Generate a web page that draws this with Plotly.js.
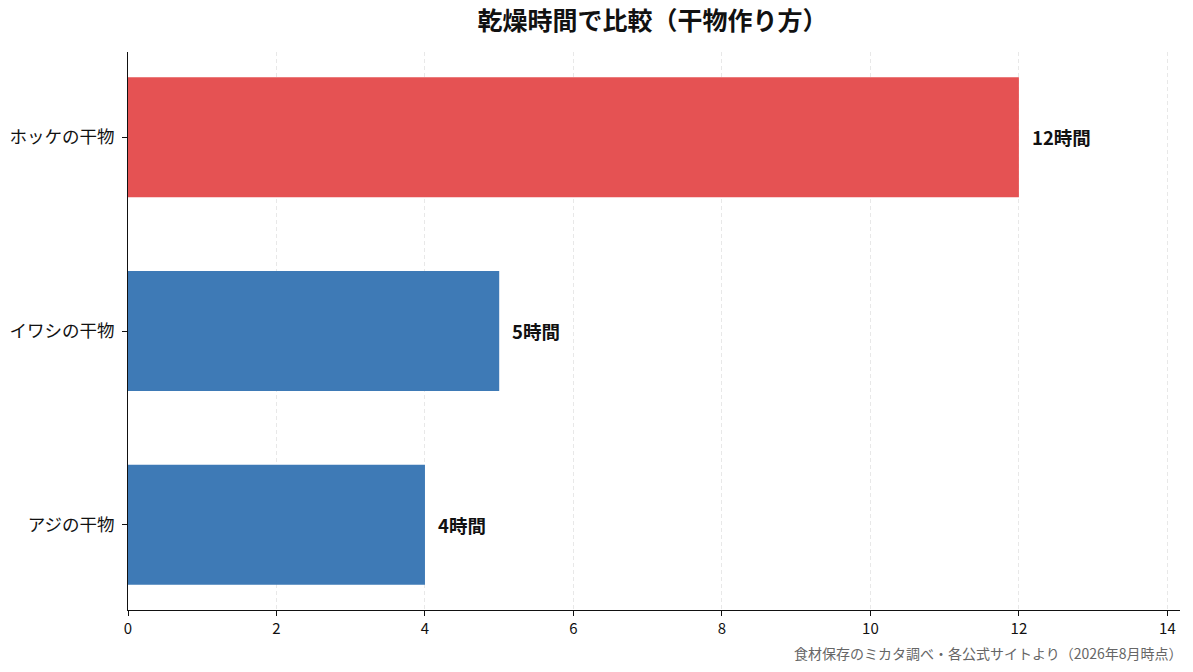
<!DOCTYPE html>
<html>
<head>
<meta charset="utf-8">
<script src="https://cdn.plot.ly/plotly-3.0.1.min.js"></script>
<style>
  html, body { margin: 0; padding: 0; background: #fff; }
  #chart { width: 1193px; height: 672px; }
</style>
</head>
<body>
<div id="chart"></div>
<script>
const FONT = '"Noto Sans CJK JP", "Noto Sans", sans-serif';

// bottom to top
const categories = ["アジの干物", "イワシの干物", "ホッケの干物"];
const hours = [4, 5, 12];
const valueLabels = ["4時間", "5時間", "12時間"];
const barColors = ["#3e7ab6", "#3e7ab6", "#e55253"];

const xTicks = [0, 2, 4, 6, 8, 10, 12, 14];

const trace = {
  type: "bar",
  orientation: "h",
  x: hours,
  y: categories,
  width: 0.62,
  marker: { color: barColors, line: { width: 0 } },
  hoverinfo: "none",
};

// value labels a bit right of each bar end
const labels = hours.map((h, i) => ({
  x: h,
  y: categories[i],
  xref: "x",
  yref: "y",
  text: "<b>" + valueLabels[i] + "</b>",
  showarrow: false,
  xanchor: "left",
  xshift: 11,
  font: { family: FONT, size: 18.5, color: "#111" },
}));

const layout = {
  width: 1193,
  height: 672,
  paper_bgcolor: "#fff",
  plot_bgcolor: "#fff",
  margin: { l: 128, r: 13, t: 52, b: 62 },
  showlegend: false,
  font: { family: FONT, color: "#111" },
  title: {
    text: "<b>乾燥時間で比較（干物作り方）</b>",
    x: 0.547,
    xanchor: "center",
    y: 0.968,
    yanchor: "middle",
    font: { family: FONT, size: 25, color: "#111" },
  },
  xaxis: {
    range: [0, 14.17],
    tickvals: xTicks,
    ticktext: xTicks.map(String),
    ticks: "outside",
    ticklen: 5,
    tickcolor: "#111",
    showline: true,
    linecolor: "#111",
    linewidth: 1,
    showgrid: true,
    gridcolor: "#e8e8e8",
    griddash: "4px,3px",
    gridwidth: 1,
    zeroline: false,
    tickfont: { family: FONT, size: 15, color: "#111" },
    fixedrange: true,
  },
  yaxis: {
    range: [-0.44, 2.44],
    ticks: "outside",
    ticklen: 5,
    tickcolor: "#111",
    ticklabelstandoff: 4,
    showline: true,
    linecolor: "#111",
    linewidth: 1,
    showgrid: false,
    zeroline: false,
    tickfont: { family: FONT, size: 17.5, color: "#111" },
    fixedrange: true,
  },
  annotations: labels.concat([
    {
      text: "食材保存のミカタ調べ・各公式サイトより（2026年8月時点）",
      xref: "paper",
      yref: "paper",
      x: 0.996,
      xshift: 9,
      y: -0.077,
      xanchor: "right",
      yanchor: "middle",
      showarrow: false,
      font: { family: FONT, size: 14, color: "#666" },
    },
  ]),
};

Plotly.newPlot("chart", [trace], layout, { displayModeBar: false, staticPlot: true });
</script>
</body>
</html>
